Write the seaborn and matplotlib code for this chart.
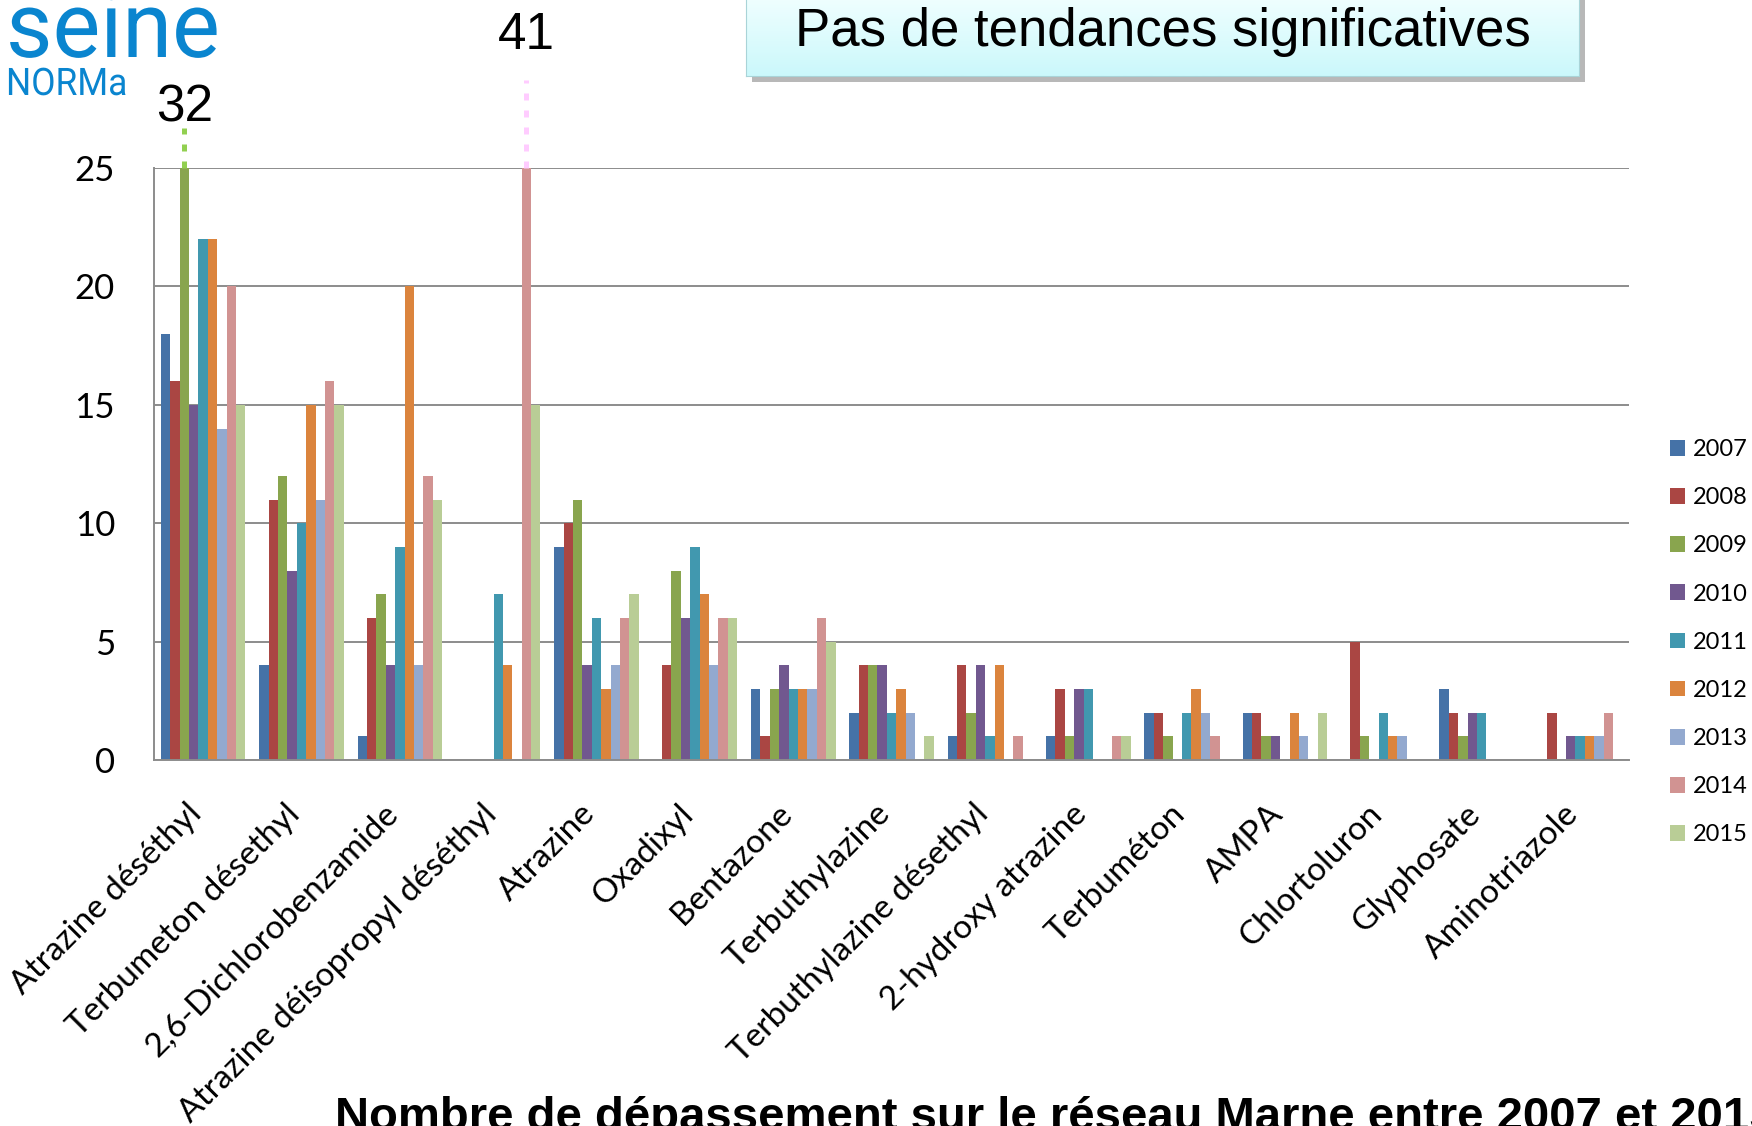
import matplotlib
matplotlib.use("Agg")
import matplotlib.pyplot as plt
from matplotlib.font_manager import FontProperties
from matplotlib.patches import PathPatch, Rectangle
from matplotlib.textpath import TextPath
from matplotlib.transforms import Affine2D
import numpy as np
import pandas as pd
import seaborn as sns

molecules = [
    "Atrazine déséthyl", "Terbumeton désethyl", "2,6-Dichlorobenzamide",
    "Atrazine déisopropyl déséthyl", "Atrazine", "Oxadixyl", "Bentazone",
    "Terbuthylazine", "Terbuthylazine désethyl", "2-hydroxy atrazine",
    "Terbuméton", "AMPA", "Chlortoluron", "Glyphosate", "Aminotriazole",
]
years = ["2007", "2008", "2009", "2010", "2011", "2012", "2013", "2014", "2015"]

# one list per year, in the order of `molecules`
y2007 = [18, 4, 1, 0, 9, 0, 3, 2, 1, 1, 2, 2, 0, 3, 0]
y2008 = [16, 11, 6, 0, 10, 4, 1, 4, 4, 3, 2, 2, 5, 2, 2]
y2009 = [32, 12, 7, 0, 11, 8, 3, 4, 2, 1, 1, 1, 1, 1, 0]
y2010 = [15, 8, 4, 0, 4, 6, 4, 4, 4, 3, 0, 1, 0, 2, 1]
y2011 = [22, 10, 9, 7, 6, 9, 3, 2, 1, 3, 2, 0, 2, 2, 1]
y2012 = [22, 15, 20, 4, 3, 7, 3, 3, 4, 0, 3, 2, 1, 0, 1]
y2013 = [14, 11, 4, 0, 4, 4, 3, 2, 0, 0, 2, 1, 1, 0, 1]
y2014 = [20, 16, 12, 41, 6, 6, 6, 0, 1, 1, 1, 0, 0, 0, 2]
y2015 = [15, 15, 11, 15, 7, 6, 5, 1, 0, 1, 0, 2, 0, 0, 0]

colors = ["#4572A7", "#AA4643", "#89A54E", "#71588F", "#4198AF",
          "#DB843D", "#93A9CF", "#D19392", "#B9CD96"]
y_max = 25
# bars taller than the axis: dotted extension colour, line top and label height
over_colors = {"2009": "#92D050", "2014": "#FFCCFF"}
over_tops = {"2009": 26.7, "2014": 28.7}
over_labels = {"2009": 27.55, "2014": 30.6}

series = [y2007, y2008, y2009, y2010, y2011, y2012, y2013, y2014, y2015]
df = pd.DataFrame(
    [(m, yr, v) for yr, vals in zip(years, series) for m, v in zip(molecules, vals)],
    columns=["molecule", "year", "count"],
)

sns.set_style("white")
plt.rcParams["font.family"] = ["Lato", "DejaVu Sans"]
plt.rcParams["text.color"] = "black"

fig = plt.figure(figsize=(17.52, 11.26), dpi=100)
ax = fig.add_axes([0.0879, 0.325, 0.842, 0.5258])
ax.set_zorder(3)

sns.barplot(data=df, x="molecule", y="count", hue="year", palette=colors,
            width=0.86, saturation=1, linewidth=0, ax=ax, legend=True)
ax.set_ylim(0, y_max)
ax.set_xlim(-0.5, len(molecules) - 0.5)
ax.set_xlabel("")
ax.set_ylabel("")

for p in ax.patches:
    h = p.get_height()
    if h > y_max:
        fc = matplotlib.colors.to_hex(p.get_facecolor()).upper()
        yr = years[colors.index(fc)]
        x = p.get_x() + p.get_width() / 2
        ax.plot([x, x], [y_max, over_tops[yr]], color=over_colors[yr], lw=3.6,
                ls=(0, (1.4, 2.0)), solid_capstyle="butt", clip_on=False)
        ax.text(x, over_labels[yr], f"{h:g}", ha="center", va="center",
                fontsize=37, family="Liberation Sans", color="black", clip_on=False)

ax.set_axisbelow(True)
ax.yaxis.grid(True, color="#8c8c8c", lw=1.4)
ax.set_yticks(range(0, 26, 5))
ax.tick_params(axis="y", length=9, width=1.4, color="#8c8c8c", pad=19,
               labelsize=25, labelcolor="black")
ax.tick_params(axis="x", which="major", length=0, pad=40)
ax.set_xticks(np.arange(len(molecules) + 1) - 0.5, minor=True)
ax.tick_params(axis="x", which="minor", length=9, width=1.4, color="#8c8c8c")
ax.set_xticklabels(molecules, rotation=45, ha="right", va="baseline",
                   rotation_mode="anchor", fontsize=24, color="black")
for side in ["top", "right"]:
    ax.spines[side].set_visible(False)
for side in ["left", "bottom"]:
    ax.spines[side].set_color("#8c8c8c")
    ax.spines[side].set_linewidth(1.4)

handles, labels = ax.get_legend_handles_labels()
ax.get_legend().remove()
fig.legend(handles, labels, loc="upper left", bbox_to_anchor=(0.953, 0.61),
           frameon=False, handlelength=0.65, handleheight=0.65, handletextpad=0.35,
           labelspacing=1.15, fontsize=17, borderpad=0, borderaxespad=0)


# logo fragment, top left (narrow lettering, drawn as squeezed text paths)
def logo_text(s, x, y_base, size, squeeze):
    path = TextPath((0, 0), s, size=size, prop=FontProperties(family="Roboto"))
    tr = (Affine2D().scale(squeeze / 100, 1 / 100)
          .translate(x / 100, (1126 - y_base) / 100) + fig.dpi_scale_trans)
    fig.patches.append(PathPatch(path, transform=tr, facecolor="#0A85CF",
                                 edgecolor="none", zorder=1))


logo_text("seine", 6, 57, 92, 0.98)
logo_text("NORMaNDIE", 6, 95, 38, 0.93)
fig.patches.append(Rectangle((126 / 1752, 1 - 260 / 1126), 0.3, 200 / 1126,
                             transform=fig.transFigure, facecolor="white",
                             edgecolor="none", zorder=2))

# boxed remark, top centre
fig.patches.append(Rectangle((752 / 1752, 1 - 82 / 1126), 833 / 1752, 90 / 1126,
                             transform=fig.transFigure, facecolor="#b8b8b8",
                             edgecolor="none", zorder=2))
bax = fig.add_axes([746 / 1752, 1 - 76 / 1126, 833 / 1752, 80 / 1126])
bax.set_zorder(4)
grad = np.linspace(0, 1, 50)[:, None]
bax.imshow(grad, aspect="auto", extent=[0, 1, 0, 1],
           cmap=matplotlib.colors.LinearSegmentedColormap.from_list("g", ["#f0ffff", "#cbf8fb"]))
bax.set_xticks([])
bax.set_yticks([])
for s in bax.spines.values():
    s.set_color("#a9d4d8")
bax.text(0.5, 0.55, "Pas de tendances significatives", ha="center", va="center",
         fontsize=38, family="Liberation Sans", transform=bax.transAxes)

fig.text(335 / 1752, -4 / 1126,
         "Nombre de dépassement sur le réseau Marne entre 2007 et 2015",
         fontsize=34, fontweight="bold", family="Liberation Sans", va="baseline")

fig.savefig("out.png", dpi=100, facecolor="white")
